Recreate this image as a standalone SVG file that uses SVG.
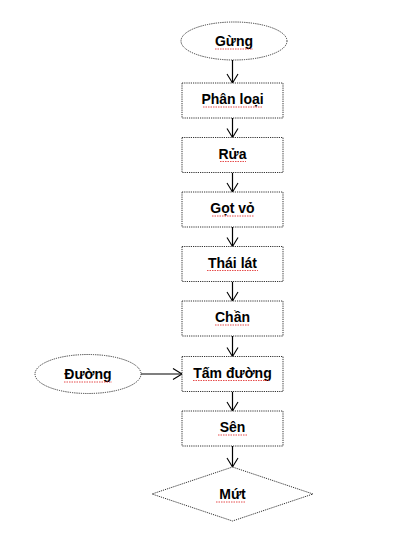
<svg xmlns="http://www.w3.org/2000/svg" width="403" height="535" viewBox="0 0 403 535">
<defs>
<style>
.shape{fill:#fff;stroke:#333;stroke-width:1;stroke-dasharray:1.2 1}
.lbl{font-family:"Liberation Sans",Arial,sans-serif;font-weight:bold;font-size:14px;fill:#000;text-anchor:middle}
.conn{stroke:#000;stroke-width:1.2;fill:none}
.sq{stroke:#e02020;stroke-width:0.8;fill:none;stroke-dasharray:1.5 1}
</style>
<marker id="arr" markerWidth="14" markerHeight="14" refX="12" refY="6" orient="auto" markerUnits="userSpaceOnUse">
<polyline points="3,0.5 12,6 3,11.5" fill="none" stroke="#000" stroke-width="1.1"/>
</marker>
</defs>
<rect width="403" height="535" fill="#fff"/>
<g id="connectors">
<line class="conn" x1="232.5" y1="60" x2="232.5" y2="83" marker-end="url(#arr)"/>
<line class="conn" x1="232.5" y1="118" x2="232.5" y2="137.5" marker-end="url(#arr)"/>
<line class="conn" x1="232.5" y1="172.5" x2="232.5" y2="192" marker-end="url(#arr)"/>
<line class="conn" x1="232.5" y1="227" x2="232.5" y2="246.5" marker-end="url(#arr)"/>
<line class="conn" x1="232.5" y1="281.5" x2="232.5" y2="301" marker-end="url(#arr)"/>
<line class="conn" x1="232.5" y1="336" x2="232.5" y2="356.5" marker-end="url(#arr)"/>
<line class="conn" x1="232.5" y1="391.5" x2="232.5" y2="411" marker-end="url(#arr)"/>
<line class="conn" x1="232.5" y1="446" x2="232.5" y2="467" marker-end="url(#arr)"/>
<line class="conn" x1="141" y1="374" x2="182" y2="374" marker-end="url(#arr)"/>
</g>
<g id="gung">
<ellipse class="shape" cx="234" cy="41" rx="53" ry="19"/>
<text class="lbl" x="234" y="46">Gừng</text>
<path class="sq" d="M215 49 H253"/>
</g>
<g id="phanloai">
<rect class="shape" x="182" y="83" width="101" height="35"/>
<text class="lbl" x="232.5" y="104">Phân loại</text>
<path class="sq" d="M203 107 H263"/>
</g>
<g id="rua">
<rect class="shape" x="182" y="137.5" width="101" height="35"/>
<text class="lbl" x="232.5" y="158.5">Rửa</text>
<path class="sq" d="M220 161.5 H246"/>
</g>
<g id="gotvo">
<rect class="shape" x="182" y="192" width="101" height="35"/>
<text class="lbl" x="232.5" y="213">Gọt vỏ</text>
<path class="sq" d="M212 216 H254"/>
</g>
<g id="thailat">
<rect class="shape" x="182" y="246.5" width="101" height="35"/>
<text class="lbl" x="232.5" y="267.5">Thái lát</text>
<path class="sq" d="M207 270.5 H258"/>
</g>
<g id="chan">
<rect class="shape" x="182" y="301" width="101" height="35"/>
<text class="lbl" x="232.5" y="322">Chần</text>
<path class="sq" d="M215 325 H250"/>
</g>
<g id="duong">
<ellipse class="shape" cx="88" cy="374" rx="53" ry="19.5"/>
<text class="lbl" x="88" y="379">Đường</text>
<path class="sq" d="M64 382 H112"/>
</g>
<g id="tamduong">
<rect class="shape" x="182" y="356.5" width="101" height="35"/>
<text class="lbl" x="232.5" y="377.5">Tấm đường</text>
<path class="sq" d="M193 380.5 H269"/>
</g>
<g id="sen">
<rect class="shape" x="182" y="411" width="101" height="35"/>
<text class="lbl" x="232.5" y="432">Sên</text>
<path class="sq" d="M218 435 H247"/>
</g>
<g id="mut">
<polygon class="shape" points="232.5,467 313,494 232.5,521 152,494"/>
<text class="lbl" x="232.5" y="499">Mứt</text>
<path class="sq" d="M216 502 H246"/>
</g>
</svg>
